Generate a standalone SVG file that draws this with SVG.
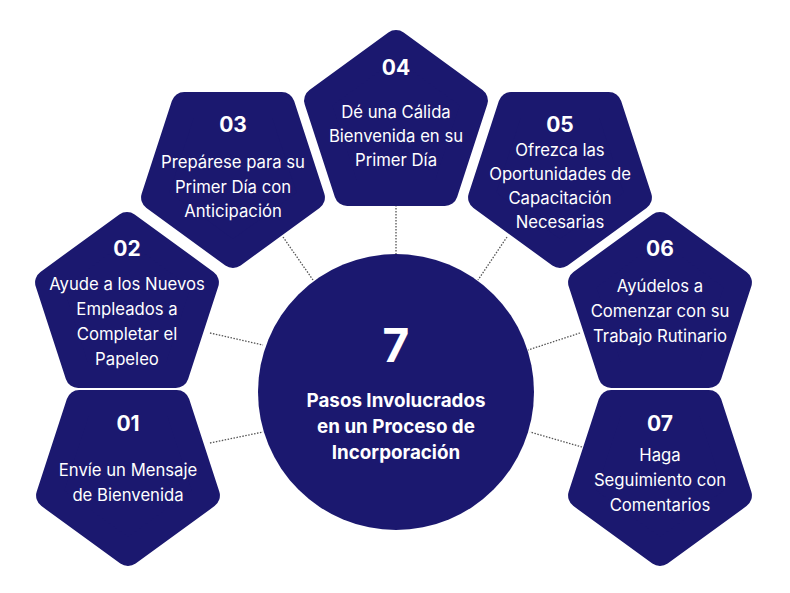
<svg xmlns="http://www.w3.org/2000/svg" width="790" height="593" viewBox="0 0 790 593">
<style>
.p{fill:#1b186f;stroke:#1b186f;stroke-width:26;stroke-linejoin:round}
.t{fill:#fff;font-family:Inter,"Noto Sans",sans-serif;font-size:16.7px;text-anchor:middle}
.n{fill:#fff;font-family:Inter,"Noto Sans",sans-serif;font-size:21px;font-weight:700;text-anchor:middle}
.b{fill:#fff;font-family:Inter,"Noto Sans",sans-serif;font-size:18.8px;font-weight:700;text-anchor:middle}
.c{stroke:#555;stroke-width:1.3;stroke-dasharray:1.5 1.5;fill:none}
</style>
<defs>
<polygon id="up" points="0,-83 78.9,-25.6 48.8,67.1 -48.8,67.1 -78.9,-25.6"/>
<polygon id="dn" points="0,83 78.9,25.6 48.8,-67.1 -48.8,-67.1 -78.9,25.6"/>
</defs>
<g id="connectors">
<line class="c" x1="396" y1="205" x2="396" y2="254"/>
<line class="c" x1="283" y1="237" x2="313" y2="280"/>
<line class="c" x1="507" y1="237" x2="478" y2="280"/>
<line class="c" x1="210" y1="333" x2="263" y2="345"/>
<line class="c" x1="580" y1="333" x2="528" y2="350"/>
<line class="c" x1="210" y1="443" x2="263" y2="432"/>
<line class="c" x1="582" y1="447" x2="530" y2="432"/>
</g>
<g id="center">
<circle cx="396" cy="392" r="138" fill="#1b186f"/>
<text class="b" x="396" y="362" style="font-size:46px">7</text>
<text class="b" x="396" y="407">Pasos Involucrados</text>
<text class="b" x="396" y="433">en un Proceso de</text>
<text class="b" x="396" y="459">Incorporación</text>
</g>
<g id="n04"><use href="#up" class="p" x="396" y="126"/>
<text class="n" x="396" y="75">04</text>
<text class="t" x="396" y="118">Dé una Cálida</text><text class="t" x="396" y="142">Bienvenida en su</text><text class="t" x="396" y="166">Primer Día</text></g>
<g id="n03"><use href="#dn" class="p" x="233" y="172"/>
<text class="n" x="233" y="132">03</text>
<text class="t" x="233" y="168">Prepárese para su</text><text class="t" x="233" y="193">Primer Día con</text><text class="t" x="233" y="217">Anticipación</text></g>
<g id="n05"><use href="#dn" class="p" x="560" y="172"/>
<text class="n" x="560" y="132">05</text>
<text class="t" x="560" y="156">Ofrezca las</text><text class="t" x="560" y="180">Oportunidades de</text><text class="t" x="560" y="204">Capacitación</text><text class="t" x="560" y="228">Necesarias</text></g>
<g id="n02"><use href="#up" class="p" x="127" y="308"/>
<text class="n" x="127" y="256">02</text>
<text class="t" x="127" y="290">Ayude a los Nuevos</text><text class="t" x="127" y="315">Empleados a</text><text class="t" x="127" y="340">Completar el</text><text class="t" x="127" y="365">Papeleo</text></g>
<g id="n06"><use href="#up" class="p" x="660" y="308"/>
<text class="n" x="660" y="256">06</text>
<text class="t" x="660" y="292">Ayúdelos a</text><text class="t" x="660" y="317">Comenzar con su</text><text class="t" x="660" y="342">Trabajo Rutinario</text></g>
<g id="n01"><use href="#dn" class="p" x="128" y="470"/>
<text class="n" x="128" y="431">01</text>
<text class="t" x="128" y="476">Envíe un Mensaje</text><text class="t" x="128" y="501">de Bienvenida</text></g>
<g id="n07"><use href="#dn" class="p" x="660" y="470"/>
<text class="n" x="660" y="431">07</text>
<text class="t" x="660" y="461">Haga</text><text class="t" x="660" y="486">Seguimiento con</text><text class="t" x="660" y="511">Comentarios</text></g>
</svg>
